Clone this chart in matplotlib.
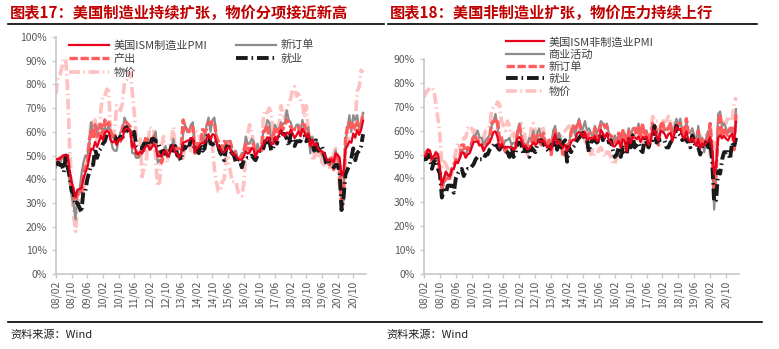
import numpy as np
import matplotlib
matplotlib.use("Agg")
import matplotlib.pyplot as plt

plt.rcParams['font.family'] = ['Noto Sans CJK SC', 'DejaVu Sans']

# monthly, 2008/02 - 2021/03
months = ["%02d/%02d" % ((m // 12) % 100, m % 12 + 1) for m in range(2008 * 12 + 1, 2021 * 12 + 3)]

# ---- manufacturing ----
mfg_pmi = [48.3, 48.6, 48.6, 49.6, 50.2, 50.0, 49.9, 43.5, 38.9, 36.2, 32.4,
           35.6, 35.8, 36.3, 40.1, 42.8, 44.8, 48.9, 52.9, 52.6, 55.7, 53.6, 55.9,
           58.4, 56.5, 59.6, 60.4, 59.7, 56.2, 55.5, 56.3, 54.4, 56.9, 56.6, 57.0,
           60.8, 61.4, 61.2, 60.4, 53.5, 55.3, 50.9, 50.6, 51.6, 50.8, 52.7, 53.9,
           54.1, 52.4, 53.4, 54.8, 53.5, 49.7, 49.8, 49.6, 51.5, 51.7, 49.5, 50.7,
           53.1, 54.2, 51.3, 50.7, 49.0, 50.9, 55.4, 55.7, 56.2, 56.4, 57.3, 57.0,
           51.3, 53.2, 53.7, 54.9, 55.4, 55.3, 57.1, 59.0, 56.6, 59.0, 58.7, 55.5,
           53.5, 52.9, 51.5, 51.5, 52.8, 53.5, 52.7, 51.1, 50.2, 50.1, 48.6, 48.2,
           48.2, 49.5, 51.8, 50.8, 51.3, 53.2, 52.6, 49.4, 51.5, 51.9, 53.2, 54.7,
           56.0, 57.7, 57.2, 54.8, 54.9, 57.8, 56.3, 58.8, 60.8, 58.7, 58.2, 59.7,
           59.1, 60.8, 59.3, 57.3, 58.7, 60.2, 58.1, 61.3, 59.8, 57.7, 59.3, 54.1,
           56.6, 54.2, 55.3, 52.8, 52.1, 51.7, 51.2, 49.1, 47.8, 48.3, 48.1, 47.2,
           50.9, 50.1, 49.1, 41.5, 43.1, 52.6, 54.2, 56.0, 55.4, 59.3, 57.5, 60.7,
           58.7, 60.8, 64.7]
mfg_new_orders = [45, 47, 46, 49, 49, 47, 47, 38, 33, 29, 23,
                  34, 35, 42, 47, 50, 49, 55, 64, 60, 59, 60, 63,
                  63, 60, 62, 60, 63, 57, 53, 52, 52, 57, 60, 60,
                  66, 64, 62, 61, 51, 51, 49, 49, 50, 52, 56, 57,
                  57, 54, 54, 58, 60, 47, 48, 48, 52, 54, 50, 50,
                  53, 57, 52, 52, 48, 51, 59, 63, 60, 60, 63, 64,
                  51, 54, 55, 55, 56, 58, 63, 66, 60, 65, 66, 57,
                  52, 52, 51, 53, 56, 56, 56, 51, 50, 52, 48, 49,
                  51, 51, 58, 55, 55, 57, 56, 49, 55, 52, 53, 60,
                  60, 65, 64, 57, 59, 63, 60, 60, 64, 63, 64, 69,
                  65, 64, 61, 61, 63, 63, 60, 65, 61, 57, 62, 51,
                  58, 56, 57, 52, 52, 50, 50, 47, 47, 49, 47, 46,
                  52, 49, 42, 27, 31, 56, 61, 67, 60, 67, 65, 67,
                  61, 64, 68]
mfg_production = [47, 47, 49, 50, 49, 49, 50, 41, 37, 33, 31,
                  34, 33, 34, 42, 45, 46, 56, 61, 57, 63, 58, 59,
                  63, 59, 65, 63, 64, 60, 58, 59, 56, 57, 56, 62,
                  64, 64, 63, 62, 54, 53, 52, 50, 52, 53, 52, 58,
                  56, 54, 56, 58, 55, 51, 51, 47, 50, 52, 52, 51,
                  53, 54, 52, 53, 53, 53, 65, 62, 61, 60, 62, 62,
                  51, 55, 55, 55, 61, 60, 61, 64, 64, 64, 64, 58,
                  56, 54, 53, 56, 55, 54, 56, 53, 52, 49, 48, 49,
                  50, 52, 55, 53, 52, 54, 55, 50, 53, 52, 52, 60,
                  61, 63, 57, 58, 57, 62, 60, 61, 63, 61, 63, 65,
                  64, 62, 61, 61, 61, 62, 58, 63, 63, 60, 60, 54,
                  55, 54, 55, 53, 52, 51, 50, 49, 47, 46, 49, 44,
                  51, 50, 47, 27, 33, 57, 62, 64, 61, 63, 61, 64,
                  60, 63, 68]
mfg_employment = [46, 47, 46, 46, 43, 50, 45, 41, 35, 34, 29,
                  30, 28, 26, 35, 35, 40, 43, 46, 46, 53, 49, 52,
                  53, 55, 56, 59, 58, 58, 58, 58, 56, 57, 58, 57,
                  61, 62, 60, 59, 58, 60, 54, 53, 53, 53, 55, 55,
                  55, 53, 57, 57, 56, 56, 53, 51, 52, 51, 49, 51,
                  54, 52, 54, 50, 50, 48, 54, 53, 55, 53, 57, 56,
                  52, 52, 51, 55, 52, 53, 58, 59, 55, 55, 54, 56,
                  54, 51, 50, 48, 53, 55, 52, 51, 50, 47, 48, 48,
                  45, 48, 48, 49, 49, 50, 49, 48, 50, 52, 52, 53,
                  56, 54, 57, 52, 53, 57, 55, 59, 60, 59, 59, 57,
                  54, 59, 57, 54, 56, 56, 56, 58, 58, 56, 58, 55,
                  56, 52, 57, 52, 53, 54, 51, 47, 46, 47, 46, 45,
                  46, 46, 43, 27, 32, 42, 44, 46, 49, 53, 48, 51,
                  52, 54, 59]
mfg_prices = [76, 83, 84, 87, 91, 90, 77, 53, 37, 25, 18,
              29, 31, 31, 33, 44, 51, 55, 65, 63, 65, 55, 61,
              70, 75, 75, 78, 77, 57, 57, 61, 71, 71, 69, 72,
              81, 82, 85, 85, 77, 68, 59, 55, 57, 41, 45, 47,
              55, 62, 61, 61, 47, 37, 39, 54, 58, 52, 47, 55,
              56, 62, 52, 50, 49, 52, 49, 54, 56, 55, 52, 53,
              61, 60, 59, 56, 60, 58, 59, 58, 59, 54, 44, 39,
              35, 35, 39, 40, 49, 49, 44, 39, 39, 39, 35, 33,
              33, 38, 51, 59, 63, 60, 55, 53, 53, 54, 54, 65,
              69, 68, 70, 68, 60, 55, 62, 62, 71, 68, 65, 69,
              72, 74, 78, 79, 75, 76, 73, 72, 66, 71, 60, 54,
              49, 49, 54, 50, 53, 47, 46, 46, 49, 45, 46, 51,
              53, 45, 37, 35, 40, 51, 53, 59, 62, 65, 65, 77,
              79, 86, 85]

# ---- non-manufacturing ----
nmi_pmi = [49.3, 49.6, 52.0, 51.7, 48.2, 49.5, 50.6, 50.2, 44.4, 37.3, 40.1,
           42.9, 41.6, 40.8, 43.7, 44.0, 47.0, 46.4, 48.4, 50.9, 50.6, 48.7, 50.1,
           50.5, 53.0, 55.4, 55.4, 55.4, 53.8, 54.3, 51.5, 53.2, 54.3, 55.0, 57.1,
           59.4, 59.7, 57.3, 52.8, 54.6, 53.3, 52.7, 53.3, 53.0, 52.9, 52.0, 52.6,
           56.8, 57.3, 56.0, 53.5, 53.7, 52.1, 52.6, 53.7, 55.1, 54.2, 54.7, 56.1,
           55.2, 56.0, 54.4, 53.1, 53.7, 52.2, 56.0, 58.6, 54.4, 55.4, 53.9, 53.0,
           54.0, 51.6, 53.1, 55.2, 56.3, 56.0, 58.7, 59.6, 58.6, 57.1, 59.3, 56.2,
           56.7, 56.9, 56.5, 57.8, 55.7, 56.0, 60.3, 59.0, 56.9, 59.1, 55.9, 55.3,
           53.5, 53.4, 54.5, 55.7, 52.9, 56.5, 55.5, 51.4, 57.1, 54.8, 57.2, 57.2,
           56.5, 57.6, 55.2, 57.5, 56.9, 57.4, 53.9, 55.3, 59.8, 60.1, 57.4, 55.9,
           59.9, 59.5, 58.8, 56.8, 58.6, 59.1, 55.7, 58.5, 61.6, 60.3, 60.7, 57.6,
           56.7, 59.7, 56.1, 55.5, 56.9, 55.1, 53.7, 56.4, 52.6, 54.7, 53.9, 55.0,
           55.5, 57.3, 52.5, 41.8, 45.4, 57.1, 58.1, 56.9, 57.8, 56.6, 55.9, 57.7,
           58.7, 55.3, 63.7]
nmi_business = [50, 50, 52, 51, 47, 48, 51, 48, 44, 35, 38,
                42, 41, 40, 44, 44, 47, 47, 49, 52, 51, 49, 53,
                51, 55, 58, 58, 60, 57, 57, 54, 56, 57, 58, 62,
                64, 67, 61, 56, 56, 54, 56, 56, 57, 54, 55, 54,
                59, 63, 57, 55, 54, 54, 57, 56, 60, 55, 59, 61,
                56, 57, 56, 53, 56, 53, 60, 62, 55, 59, 56, 54,
                54, 54, 54, 60, 62, 58, 62, 65, 60, 61, 64, 60,
                61, 59, 57, 62, 59, 61, 64, 63, 61, 63, 59, 58,
                54, 58, 56, 58, 55, 59, 59, 51, 61, 57, 61, 61,
                60, 63, 58, 62, 60, 60, 55, 57, 61, 61, 61, 57,
                59, 60, 60, 61, 61, 63, 58, 61, 65, 62, 65, 59,
                56, 64, 59, 59, 61, 58, 54, 62, 55, 57, 51, 57,
                60, 58, 48, 27, 42, 67, 68, 62, 63, 61, 59, 60,
                60, 55, 69]
nmi_new_orders = [50, 51, 52, 50, 47, 46, 51, 49, 42, 36, 38,
                  40, 40, 40, 44, 45, 48, 48, 49, 54, 54, 49, 53,
                  52, 55, 58, 57, 56, 55, 54, 52, 54, 55, 57, 63,
                  64, 64, 65, 56, 57, 53, 51, 52, 52, 53, 51, 52,
                  59, 62, 58, 53, 54, 54, 54, 55, 58, 54, 58, 58,
                  54, 59, 54, 53, 56, 50, 57, 60, 56, 56, 55, 49,
                  50, 54, 54, 59, 62, 61, 62, 64, 61, 60, 59, 56,
                  59, 56, 57, 61, 57, 58, 63, 63, 62, 62, 58, 58,
                  57, 55, 56, 59, 54, 60, 59, 51, 60, 57, 59, 61,
                  58, 62, 58, 63, 57, 60, 55, 57, 63, 62, 58, 54,
                  62, 64, 60, 60, 61, 63, 57, 60, 61, 63, 63, 61,
                  58, 65, 59, 58, 58, 56, 54, 60, 53, 55, 57, 54,
                  56, 63, 52, 32, 42, 61, 67, 57, 61, 59, 58, 61,
                  61, 52, 67]
nmi_employment = [48, 48, 50, 48, 44, 47, 48, 44, 42, 32, 35,
                  34, 37, 37, 37, 34, 40, 42, 43, 44, 41, 43, 44,
                  44, 45, 46, 48, 49, 48, 48, 48, 50, 50, 52, 53,
                  54, 55, 53, 52, 54, 54, 52, 51, 49, 54, 49, 50,
                  55, 55, 54, 50, 53, 52, 49, 53, 52, 51, 54, 56,
                  56, 55, 53, 52, 51, 54, 54, 57, 52, 56, 53, 55,
                  56, 47, 53, 51, 53, 54, 56, 57, 58, 59, 56, 56,
                  51, 55, 56, 56, 55, 56, 59, 56, 58, 59, 55, 56,
                  52, 49, 50, 53, 49, 53, 51, 50, 57, 53, 58, 53,
                  54, 55, 52, 51, 57, 55, 53, 56, 56, 62, 55, 56,
                  56, 56, 56, 53, 53, 55, 56, 56, 62, 59, 58, 56,
                  57, 56, 55, 53, 58, 55, 53, 53, 50, 53, 55, 55,
                  53, 56, 47, 30, 31, 43, 42, 48, 51, 51, 51, 48,
                  55, 53, 57]
nmi_prices = [74, 76, 77, 78, 78, 77, 71, 65, 58, 45, 47,
              46, 44, 40, 42, 47, 51, 55, 53, 51, 57, 57, 61,
              60, 61, 59, 61, 57, 53, 56, 57, 60, 61, 62, 68,
              70, 70, 72, 71, 64, 62, 60, 64, 62, 58, 59, 56,
              59, 62, 63, 62, 57, 50, 53, 62, 63, 60, 57, 57,
              58, 61, 57, 54, 56, 54, 57, 57, 59, 58, 57, 59,
              60, 61, 62, 59, 60, 60, 62, 61, 62, 60, 56, 53,
              53, 50, 52, 50, 50, 52, 53, 51, 49, 51, 51, 49,
              46, 46, 49, 51, 54, 55, 51, 52, 55, 55, 56, 58,
              59, 56, 56, 59, 54, 52, 56, 58, 66, 64, 64, 64,
              64, 64, 64, 64, 66, 64, 61, 63, 65, 63, 62, 59,
              59, 59, 59, 55, 58, 58, 57, 59, 58, 56, 56, 58,
              59, 50, 50, 55, 52, 58, 58, 64, 63, 63, 66, 65,
              64, 71, 74]

RED = '#E8001C'
SALMON = '#FF5B5B'
GRAY = '#8C8C8C'
PINK = '#FFC0C0'
BLACK = '#1A1A1A'
TITLE_RED = '#C00000'

fig = plt.figure(figsize=(7.79, 3.49), dpi=100)
W, H = 779.0, 349.0


def px_axes(x0, y_top, x1, y_bot):
    return fig.add_axes([x0 / W, 1 - y_bot / H, (x1 - x0) / W, (y_bot - y_top) / H])


def style_axes(ax, ymax):
    x = np.arange(len(months))
    ax.set_xlim(0, len(months) + 0.5)
    ax.set_ylim(0, ymax)
    ax.set_yticks(np.arange(0, ymax + 1, 10))
    ax.set_yticklabels(['%d%%' % v for v in np.arange(0, ymax + 1, 10)])
    ax.set_xticks(x[::8])
    ax.set_xticklabels(months[::8], rotation=90)
    for s in ['top', 'right']:
        ax.spines[s].set_visible(False)
    for s in ['left', 'bottom']:
        ax.spines[s].set_color('#C8C8C8')
        ax.spines[s].set_linewidth(1.2)
    ax.tick_params(axis='both', colors='#C8C8C8', labelcolor='#595959',
                   labelsize=7.5, length=3, width=1)
    ax.tick_params(axis='x', pad=2)


x = np.arange(len(months))
dashdot = (0, (3, 1, 0.4, 1))
dashed = (0, (2.5, 0.8))

# left chart
ax1 = px_axes(56, 37, 366, 274)
style_axes(ax1, 100)
ax1.plot(x, mfg_prices, color=PINK, lw=2.6, linestyle=dashdot, label='物价', zorder=2)
ax1.plot(x, mfg_new_orders, color=GRAY, lw=1.6, label='新订单', zorder=3)
ax1.plot(x, mfg_production, color=SALMON, lw=2.4, linestyle=dashed, label='产出', zorder=4)
ax1.plot(x, mfg_pmi, color=RED, lw=1.6, label='美国ISM制造业PMI', zorder=6)
ax1.plot(x, mfg_employment, color=BLACK, lw=2.8, linestyle=dashdot, label='就业', zorder=5)
h, l = ax1.get_legend_handles_labels()
order = [3, 2, 0, 1, 4]
ax1.legend([h[i] for i in order], [l[i] for i in order], ncol=2,
           loc='upper left', bbox_to_anchor=(0.01, 1.03), frameon=False,
           fontsize=8, handlelength=3.6, handletextpad=0.4,
           columnspacing=2.6, labelspacing=0.3, labelcolor='#404040')

# right chart
ax2 = px_axes(424, 59, 739, 274)
style_axes(ax2, 90)
ax2.plot(x, nmi_prices, color=PINK, lw=2.6, linestyle=dashdot, label='物价', zorder=2)
ax2.plot(x, nmi_business, color=GRAY, lw=1.6, label='商业活动', zorder=3)
ax2.plot(x, nmi_new_orders, color=SALMON, lw=2.4, linestyle=dashed, label='新订单', zorder=4)
ax2.plot(x, nmi_pmi, color=RED, lw=1.6, label='美国ISM非制造业PMI', zorder=6)
ax2.plot(x, nmi_employment, color=BLACK, lw=2.8, linestyle=dashdot, label='就业', zorder=5)
h, l = ax2.get_legend_handles_labels()
order = [3, 1, 2, 4, 0]
ax2.legend([h[i] for i in order], [l[i] for i in order], ncol=1,
           loc='upper left', bbox_to_anchor=((496 - 424) / 315.0, 1.15), frameon=False,
           fontsize=8, handlelength=3.4, handletextpad=0.4,
           labelspacing=0.18, labelcolor='#404040')

# titles, rules, sources
fig.text(10 / W, 1 - 13 / H, '图表17：美国制造业持续扩张，物价分项接近新高', color=TITLE_RED,
         fontsize=11, fontweight='bold', va='center', ha='left')
fig.text(390 / W, 1 - 13 / H, '图表18：美国非制造业扩张，物价压力持续上行', color=TITLE_RED,
         fontsize=11, fontweight='bold', va='center', ha='left')
fig.add_artist(plt.Line2D([8 / W, 384 / W], [1 - 24 / H, 1 - 24 / H], color='black', lw=1.2))
fig.add_artist(plt.Line2D([388 / W, 757 / W], [1 - 24 / H, 1 - 24 / H], color='black', lw=1.2))
fig.add_artist(plt.Line2D([8 / W, 762 / W], [1 - 322 / H, 1 - 322 / H], color='black', lw=1.2))
fig.text(10 / W, 1 - 335 / H, '资料来源：Wind', fontsize=8, color='#222222', va='center')
fig.text(386 / W, 1 - 335 / H, '资料来源：Wind', fontsize=8, color='#222222', va='center')

fig.savefig('out.png', dpi=100)
